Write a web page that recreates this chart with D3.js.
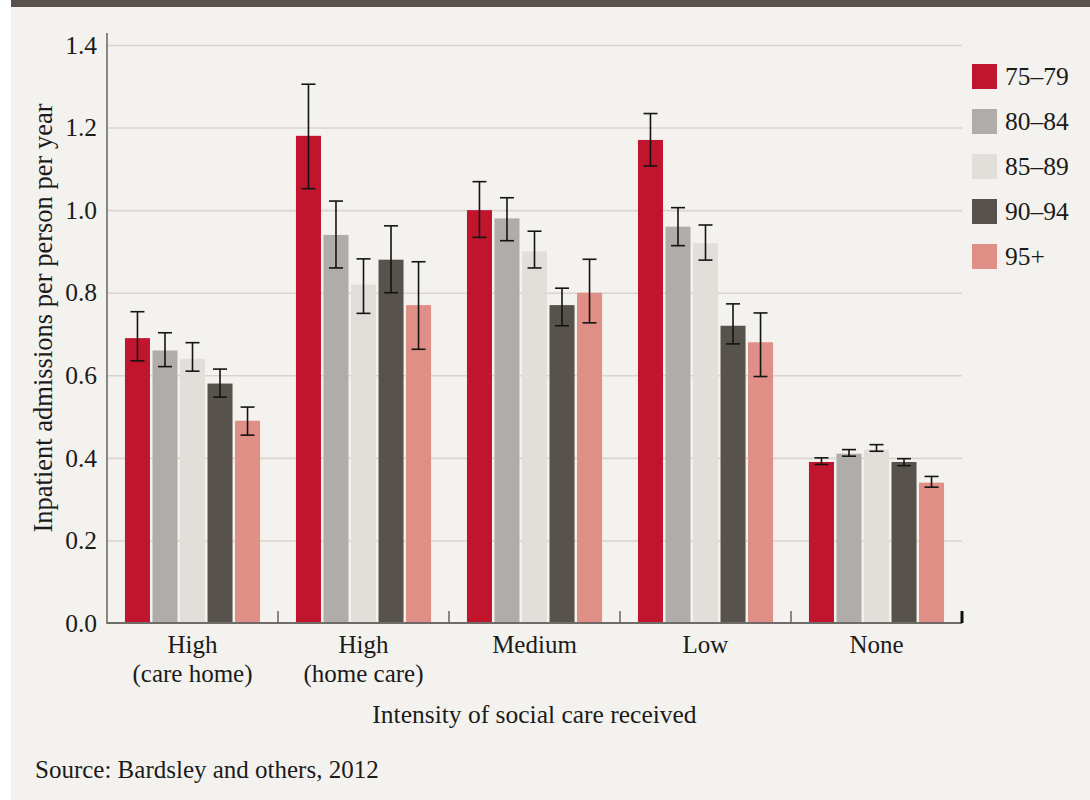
<!DOCTYPE html>
<html>
<head>
<meta charset="utf-8">
<script src="https://cdn.jsdelivr.net/npm/d3@7"></script>
<style>
  html, body { margin: 0; padding: 0; background: #ffffff; }
  svg { display: block; }
  text { font-family: "Liberation Serif", "DejaVu Serif", serif; fill: #1b1b1b; }
</style>
</head>
<body>
<svg id="chart" width="1090" height="800"></svg>
<script>
// Categories (each split into display lines) and age groups
const categories = ["High (care home)", "High (home care)", "Medium", "Low", "None"];
const categoryLines = [["High", "(care home)"], ["High", "(home care)"], ["Medium"], ["Low"], ["None"]];
const ageGroups = ["75–79", "80–84", "85–89", "90–94", "95+"];
const ageColors = ["#c0152d", "#b0acaa", "#e2dfda", "#58524d", "#e08f86"];

// Admissions per person per year, by age group (one value per category)
const values7579 = [0.69, 1.18, 1.00, 1.17, 0.39];
const values8084 = [0.66, 0.94, 0.98, 0.96, 0.41];
const values8589 = [0.64, 0.82, 0.90, 0.92, 0.42];
const values9094 = [0.58, 0.88, 0.77, 0.72, 0.39];
const values95 = [0.49, 0.77, 0.80, 0.68, 0.34];

// Confidence interval bounds
const lower7579 = [0.635, 1.052, 0.934, 1.107, 0.384];
const upper7579 = [0.754, 1.305, 1.069, 1.234, 0.400];
const lower8084 = [0.621, 0.860, 0.926, 0.914, 0.404];
const upper8084 = [0.703, 1.022, 1.030, 1.006, 0.420];
const lower8589 = [0.610, 0.750, 0.860, 0.879, 0.416];
const upper8589 = [0.679, 0.882, 0.949, 0.964, 0.432];
const lower9094 = [0.547, 0.800, 0.720, 0.676, 0.381];
const upper9094 = [0.615, 0.962, 0.811, 0.773, 0.398];
const lower95 = [0.455, 0.663, 0.727, 0.597, 0.329];
const upper95 = [0.523, 0.875, 0.881, 0.751, 0.355];

const yTicks = [0, 0.2, 0.4, 0.6, 0.8, 1.0, 1.2, 1.4];

const seriesValues = [values7579, values8084, values8589, values9094, values95];
const seriesLower = [lower7579, lower8084, lower8589, lower9094, lower95];
const seriesUpper = [upper7579, upper8084, upper8589, upper9094, upper95];

const rows = [];
categories.forEach((c, i) => {
  ageGroups.forEach((g, j) => {
    rows.push({ category: c, group: g, gi: j, value: seriesValues[j][i], lo: seriesLower[j][i], hi: seriesUpper[j][i] });
  });
});

const svg = d3.select("#chart");
const W = 1090, H = 800;

// Panel background and top band
svg.append("rect").attr("x", 11).attr("y", 0).attr("width", W - 11).attr("height", H).attr("fill", "#f4f2ee");
svg.append("rect").attr("x", 11).attr("y", 0).attr("width", W - 11).attr("height", 7).attr("fill", "#58514d");

const plot = { left: 107, right: 962, top: 45, bottom: 623 };

const y = d3.scaleLinear().domain([0, 1.4]).range([plot.bottom, plot.top]);
const x0 = d3.scaleBand().domain(categories).range([plot.left, plot.right]).padding(0);
const inset = x0.bandwidth() * 0.105;
const x1 = d3.scaleBand().domain(ageGroups).range([inset, x0.bandwidth() - inset])
  .paddingInner(2.5 / 27.5).paddingOuter(0);
const color = d3.scaleOrdinal().domain(ageGroups).range(ageColors);

// Horizontal gridlines
const grid = svg.append("g")
  .attr("transform", `translate(${plot.left},0)`)
  .call(d3.axisRight(y).tickValues(yTicks.filter(t => t > 0)).tickSize(plot.right - plot.left).tickFormat(""));
grid.select(".domain").remove();
grid.selectAll("line").attr("stroke", "#d9d4cd").attr("stroke-width", 1.6);

// Bars
const groups = svg.append("g").selectAll("g")
  .data(categories).join("g")
  .attr("transform", d => `translate(${x0(d)},0)`);

groups.selectAll("rect")
  .data(c => rows.filter(r => r.category === c))
  .join("rect")
  .attr("x", d => x1(d.group))
  .attr("y", d => y(d.value))
  .attr("width", x1.bandwidth())
  .attr("height", d => y(0) - y(d.value))
  .attr("fill", d => color(d.group));

// Error bars
const cap = 7;
const err = groups.selectAll("g.err")
  .data(c => rows.filter(r => r.category === c))
  .join("g").attr("class", "err")
  .attr("stroke", "#141414").attr("stroke-width", 1.6);
err.append("line")
  .attr("x1", d => x1(d.group) + x1.bandwidth() / 2)
  .attr("x2", d => x1(d.group) + x1.bandwidth() / 2)
  .attr("y1", d => y(d.hi)).attr("y2", d => y(d.lo));
err.append("line")
  .attr("x1", d => x1(d.group) + x1.bandwidth() / 2 - cap)
  .attr("x2", d => x1(d.group) + x1.bandwidth() / 2 + cap)
  .attr("y1", d => y(d.hi)).attr("y2", d => y(d.hi));
err.append("line")
  .attr("x1", d => x1(d.group) + x1.bandwidth() / 2 - cap)
  .attr("x2", d => x1(d.group) + x1.bandwidth() / 2 + cap)
  .attr("y1", d => y(d.lo)).attr("y2", d => y(d.lo));

// Y axis
const yAxis = svg.append("g")
  .attr("transform", `translate(${plot.left},0)`)
  .call(d3.axisLeft(y).tickValues(yTicks).tickFormat(d3.format(".1f")).tickSize(0).tickPadding(10));
yAxis.select(".domain").remove();
yAxis.selectAll("text").attr("font-size", 25.5).attr("dy", "0.32em")
  .style("font-family", '"Liberation Serif", serif').attr("fill", "#1b1b1b");
svg.append("line")
  .attr("x1", plot.left).attr("x2", plot.left)
  .attr("y1", plot.top - 12).attr("y2", plot.bottom + 1)
  .attr("stroke", "#6e6b68").attr("stroke-width", 1.6);

// X axis with upward ticks at category boundaries
const boundaries = categories.map(c => x0(c)).concat([plot.right]);
const xAxis = svg.append("g").attr("transform", `translate(0,${plot.bottom})`);
xAxis.append("line")
  .attr("x1", plot.left).attr("x2", plot.right)
  .attr("stroke", "#6e6b68").attr("stroke-width", 2);
xAxis.selectAll("line.tick")
  .data(boundaries.slice(1))
  .join("line").attr("class", "tick")
  .attr("x1", d => d).attr("x2", d => d)
  .attr("y1", 0).attr("y2", -12)
  .attr("stroke", (d, i, n) => i === n.length - 1 ? "#111" : "#6e6b68")
  .attr("stroke-width", (d, i, n) => i === n.length - 1 ? 3 : 1.6);

// Category labels
const catLabels = svg.append("g").selectAll("text")
  .data(categories).join("text")
  .attr("x", d => x0(d) + x0.bandwidth() / 2)
  .attr("y", 653)
  .attr("text-anchor", "middle")
  .attr("font-size", 25);
catLabels.selectAll("tspan")
  .data((d, i) => categoryLines[i])
  .join("tspan")
  .attr("x", function () { return this.parentNode.getAttribute("x"); })
  .attr("dy", (d, i) => i === 0 ? 0 : 29)
  .text(d => d);

// Axis titles
svg.append("text")
  .attr("x", (plot.left + plot.right) / 2)
  .attr("y", 723)
  .attr("text-anchor", "middle")
  .attr("font-size", 25.5)
  .text("Intensity of social care received");

svg.append("text")
  .attr("transform", `translate(52,${(plot.top + plot.bottom) / 2 - 16}) rotate(-90)`)
  .attr("text-anchor", "middle")
  .attr("font-size", 26.5)
  .text("Inpatient admissions per person per year");

// Source note
svg.append("text")
  .attr("x", 35).attr("y", 778)
  .attr("font-size", 25)
  .text("Source: Bardsley and others, 2012");

// Legend
const legend = svg.append("g").attr("transform", "translate(972,64)");
const item = legend.selectAll("g").data(ageGroups).join("g")
  .attr("transform", (d, i) => `translate(0,${i * 45})`);
item.append("rect").attr("width", 25).attr("height", 25).attr("fill", d => color(d));
item.append("text").attr("x", 33).attr("y", 21).attr("font-size", 25.5).text(d => d);
</script>
</body>
</html>
